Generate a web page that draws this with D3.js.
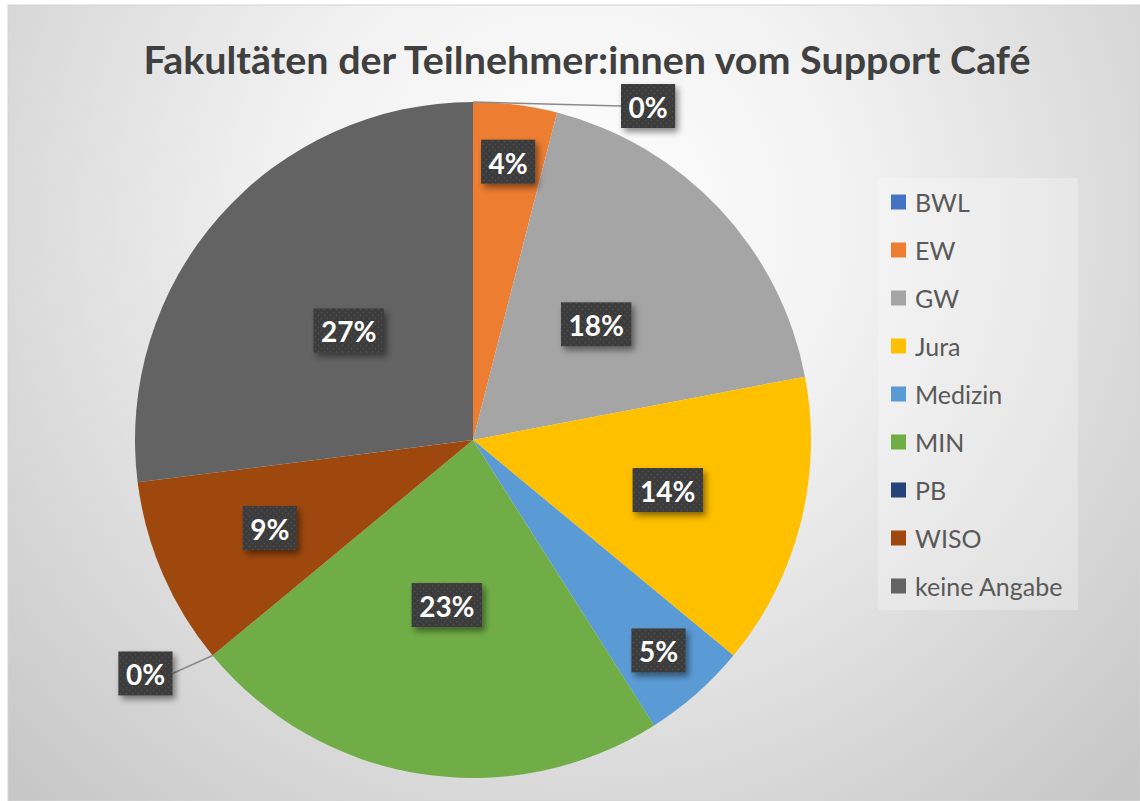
<!DOCTYPE html>
<html>
<head>
<meta charset="utf-8">
<script src="https://cdn.jsdelivr.net/npm/d3@7"></script>
<style>
  html, body { margin: 0; padding: 0; background: #ffffff; }
  svg { display: block; }
</style>
</head>
<body>
<svg id="chart" width="1140" height="801"></svg>
<script>
// Faculties of the Support Café participants (share in percent)
const categories = ["BWL", "EW", "GW", "Jura", "Medizin", "MIN", "PB", "WISO", "keine Angabe"];
const shares     = [0, 4, 18, 14, 5, 23, 0, 9, 27];
const sliceColors = ["#4472C4", "#ED7D31", "#A5A5A5", "#FFC000", "#5B9BD5", "#70AD47", "#264478", "#9E480E", "#636363"];
const titleText = "Fakultäten der Teilnehmer:innen vom Support Café";

const W = 1140, H = 801;
const svg = d3.select("#chart");
const defs = svg.append("defs");

// panel background: soft radial gradient, white towards the top centre
const bg = defs.append("radialGradient")
  .attr("id", "bgGrad").attr("gradientUnits", "userSpaceOnUse")
  .attr("cx", 570).attr("cy", 220).attr("r", 800);
bg.append("stop").attr("offset", "0%").attr("stop-color", "#ffffff");
bg.append("stop").attr("offset", "35%").attr("stop-color", "#f2f2f2");
bg.append("stop").attr("offset", "100%").attr("stop-color", "#c6c6c6");

// dotted texture for the data label boxes
const pat = defs.append("pattern")
  .attr("id", "dots").attr("patternUnits", "userSpaceOnUse")
  .attr("width", 6).attr("height", 6);
pat.append("rect").attr("width", 6).attr("height", 6).attr("fill", "#3b3b3b");
pat.append("circle").attr("cx", 1.5).attr("cy", 1.5).attr("r", 1).attr("fill", "#4d4d4d");
pat.append("circle").attr("cx", 4.5).attr("cy", 4.5).attr("r", 1).attr("fill", "#4d4d4d");

const shadow = defs.append("filter").attr("id", "shadow")
  .attr("x", "-30%").attr("y", "-30%").attr("width", "160%").attr("height", "160%");
shadow.append("feDropShadow").attr("dx", 3).attr("dy", 4).attr("stdDeviation", 3)
  .attr("flood-color", "#000").attr("flood-opacity", 0.45);

svg.append("rect").attr("x", 8).attr("y", 5).attr("width", W - 8).attr("height", H - 5)
  .attr("fill", "url(#bgGrad)").attr("stroke", "#d4d4d4").attr("stroke-width", 1);

// title
svg.append("text")
  .attr("x", 587).attr("y", 74)
  .attr("text-anchor", "middle")
  .attr("font-family", "Lato, 'Open Sans', sans-serif")
  .attr("font-weight", 700)
  .attr("font-size", 38)
  .attr("textLength", 887)
  .attr("lengthAdjust", "spacingAndGlyphs")
  .attr("fill", "#404040")
  .text(titleText);

// pie
const cx = 473, cy = 440, R = 338;
const data = categories.map((c, i) => ({ name: c, value: shares[i], color: sliceColors[i] }));
const pie = d3.pie().value(d => d.value).sort(null);
const arcs = pie(data);
const arc = d3.arc().innerRadius(0).outerRadius(R);

const g = svg.append("g").attr("transform", `translate(${cx},${cy})`);
g.selectAll("path.slice")
  .data(arcs.filter(a => a.data.value > 0))
  .join("path")
  .attr("class", "slice")
  .attr("d", arc)
  .attr("fill", d => d.data.color);

// label distance from the centre: narrower slices get their labels further out
const labelRadius = d3.scaleLinear()
  .domain([4, 5, 9, 14, 18, 27])
  .range([0.83, 0.83, 0.655, 0.595, 0.5, 0.49])
  .clamp(true);

// zero-value slices get their label pulled outside with a leader line
const zeroLabelShift = { BWL: [148, 4], PB: [-40, 18] };

const fmt = d => d3.format(".0f")(d) + "%";
const fontFam = "Lato, 'Open Sans', sans-serif";

arcs.forEach(a => {
  const mid = (a.startAngle + a.endAngle) / 2;
  let lx, ly, anchorSide = 0;
  if (a.data.value > 0) {
    const r = R * labelRadius(a.data.value);
    lx = Math.sin(mid) * r;
    ly = -Math.cos(mid) * r;
  } else {
    const px = Math.sin(mid) * R, py = -Math.cos(mid) * R;
    const s = zeroLabelShift[a.data.name];
    lx = px + s[0];
    ly = py + s[1];
    anchorSide = s[0] > 0 ? 1 : -1;
    g.append("line")
      .attr("x1", px).attr("y1", py)
      .attr("x2", lx).attr("y2", ly)
      .attr("stroke", "#8a8a8a").attr("stroke-width", 1.5);
  }
  const lg = g.append("g");
  const t = lg.append("text")
    .attr("font-family", fontFam).attr("font-weight", 700).attr("font-size", 28)
    .attr("fill", "#ffffff").attr("text-anchor", "middle")
    .attr("dominant-baseline", "central")
    .text(fmt(a.data.value));
  const tw = t.node().getComputedTextLength();
  const bw = tw + 15, bh = 44;
  let bx = lx - bw / 2;
  if (anchorSide === 1) bx = lx;
  if (anchorSide === -1) bx = lx - bw;
  lg.insert("rect", "text")
    .attr("x", bx).attr("y", ly - bh / 2)
    .attr("width", bw).attr("height", bh)
    .attr("fill", "url(#dots)")
    .attr("filter", "url(#shadow)");
  t.attr("x", bx + bw / 2).attr("y", ly + 1);
});

// legend
const legend = svg.append("g").attr("transform", "translate(878,178)");
legend.append("rect").attr("width", 200).attr("height", 432)
  .attr("fill", "#ffffff").attr("fill-opacity", 0.28);
const ly0 = 24, step = 48;
const items = legend.selectAll("g.item").data(data).join("g")
  .attr("class", "item")
  .attr("transform", (d, i) => `translate(0,${ly0 + i * step})`);
items.append("rect").attr("x", 13).attr("y", -7.5).attr("width", 15).attr("height", 15)
  .attr("fill", d => d.color);
items.append("text").attr("x", 37).attr("y", 0)
  .attr("dominant-baseline", "central")
  .attr("font-family", fontFam).attr("font-size", 25).attr("fill", "#595959")
  .text(d => d.name);
</script>
</body>
</html>
